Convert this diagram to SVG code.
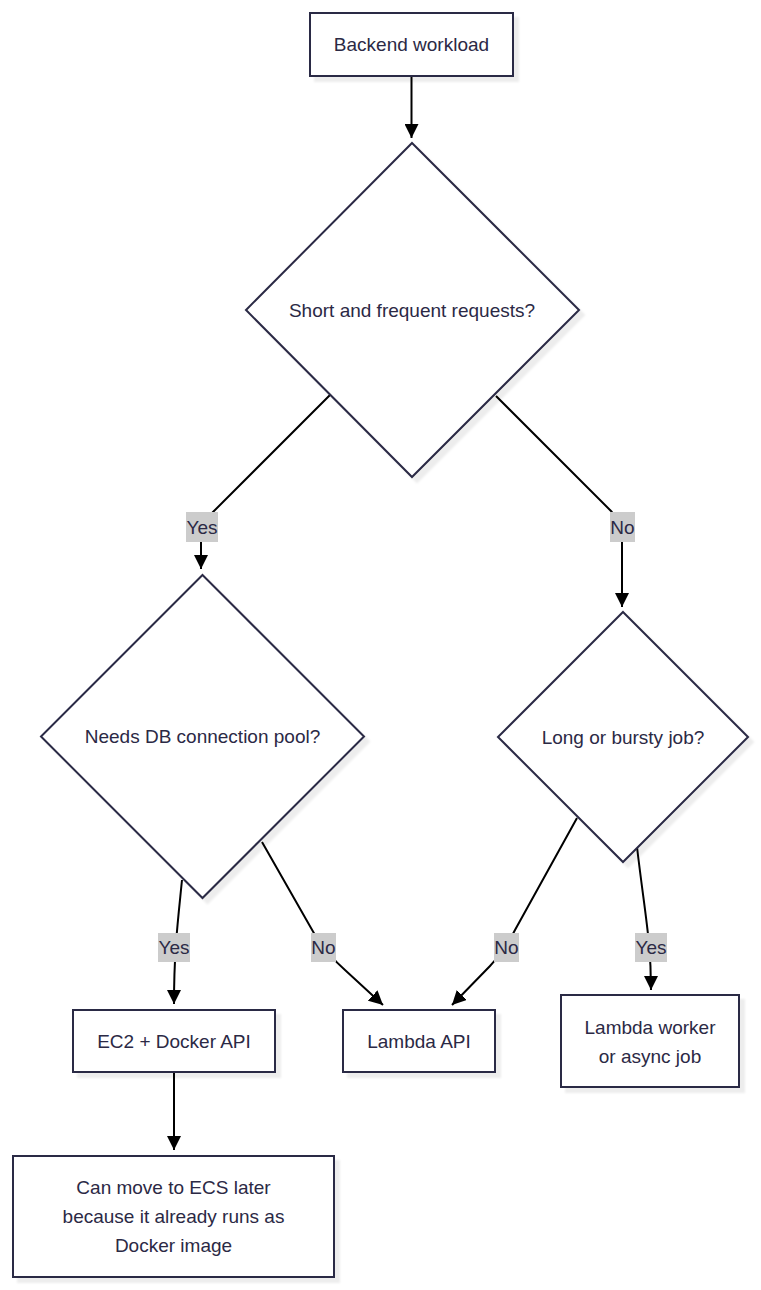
<svg xmlns="http://www.w3.org/2000/svg" width="761" height="1290" viewBox="0 0 761 1290">
  <defs>
    <marker id="arrow" viewBox="0 0 10 10" refX="10" refY="5" markerWidth="14" markerHeight="14" markerUnits="userSpaceOnUse" orient="auto">
      <path d="M0,0 L10,5 L0,10 z" fill="#000"/>
    </marker>
    <filter id="shadow" x="-10%" y="-10%" width="130%" height="130%">
      <feDropShadow dx="5" dy="5" stdDeviation="1" flood-color="#000" flood-opacity="0.07"/>
    </filter>
  </defs>
  <style>
    .node rect, .node polygon { fill: #ffffff; stroke: #2b2945; stroke-width: 2; filter: url(#shadow); }
    .node text, .lbl text { font-family: "Liberation Sans", Arial, sans-serif; font-size: 19px; fill: #2b2945; text-anchor: middle; dominant-baseline: central; }
    .edge { fill: none; stroke: #000; stroke-width: 2; marker-end: url(#arrow); }
    .lbl rect { fill: #cccccc; }
  </style>
  <rect width="761" height="1290" fill="#ffffff"/>

  <g id="connectors">
    <path class="edge" d="M411.5,76 L411.5,138"/>
    <path class="edge" d="M330,395 L212,513 Q201,524 201,540 L201,569"/>
    <path class="edge" d="M496,396 L611,511 Q622,522 622,540 L622,607"/>
    <path class="edge" d="M182,880 C178,920 174,950 174,1004"/>
    <path class="edge" d="M262,842 L315,935 Q328,955 345,970 L383,1005"/>
    <path class="edge" d="M577,818 L515,930 Q505,950 490,966 L452,1005"/>
    <path class="edge" d="M637,847 C645,915 651,940 651,990"/>
    <path class="edge" d="M174,1072 L174,1150"/>
  </g>

  <g id="edge-labels">
    <g class="lbl" id="label-d1-yes"><rect x="186" y="512" width="32" height="30"/><text x="202" y="527">Yes</text></g>
    <g class="lbl" id="label-d1-no"><rect x="610" y="512" width="25" height="30"/><text x="622.5" y="527">No</text></g>
    <g class="lbl" id="label-d2-yes"><rect x="158" y="933" width="32" height="29"/><text x="174" y="947.5">Yes</text></g>
    <g class="lbl" id="label-d2-no"><rect x="311" y="933" width="25" height="29"/><text x="323.5" y="947.5">No</text></g>
    <g class="lbl" id="label-d3-no"><rect x="494" y="933" width="25" height="29"/><text x="506.5" y="947.5">No</text></g>
    <g class="lbl" id="label-d3-yes"><rect x="635" y="933" width="32" height="29"/><text x="651" y="947.5">Yes</text></g>
  </g>

  <g id="node-backend" class="node">
    <rect x="310" y="13" width="203" height="63"/>
    <text x="411.5" y="44.5">Backend workload</text>
  </g>
  <g id="node-short" class="node">
    <polygon points="412,143 579,310 412,477 246,310"/>
    <text x="412" y="310">Short and frequent requests?</text>
  </g>
  <g id="node-dbpool" class="node">
    <polygon points="202.5,575 364,736.5 202.5,898 41,736.5"/>
    <text x="202.5" y="736.5">Needs DB connection pool?</text>
  </g>
  <g id="node-bursty" class="node">
    <polygon points="623,612 748,737 623,862 498,737"/>
    <text x="623" y="737">Long or bursty job?</text>
  </g>
  <g id="node-ec2" class="node">
    <rect x="73" y="1010" width="202" height="62"/>
    <text x="174" y="1041">EC2 + Docker API</text>
  </g>
  <g id="node-lambda-api" class="node">
    <rect x="343" y="1010" width="152" height="62"/>
    <text x="419" y="1041">Lambda API</text>
  </g>
  <g id="node-lambda-worker" class="node">
    <rect x="561" y="995" width="178" height="92"/>
    <text x="650" y="1027">Lambda worker</text>
    <text x="650" y="1056">or async job</text>
  </g>
  <g id="node-ecs" class="node">
    <rect x="13" y="1156" width="321" height="121"/>
    <text x="173.5" y="1187">Can move to ECS later</text>
    <text x="173.5" y="1216">because it already runs as</text>
    <text x="173.5" y="1245">Docker image</text>
  </g>
</svg>
